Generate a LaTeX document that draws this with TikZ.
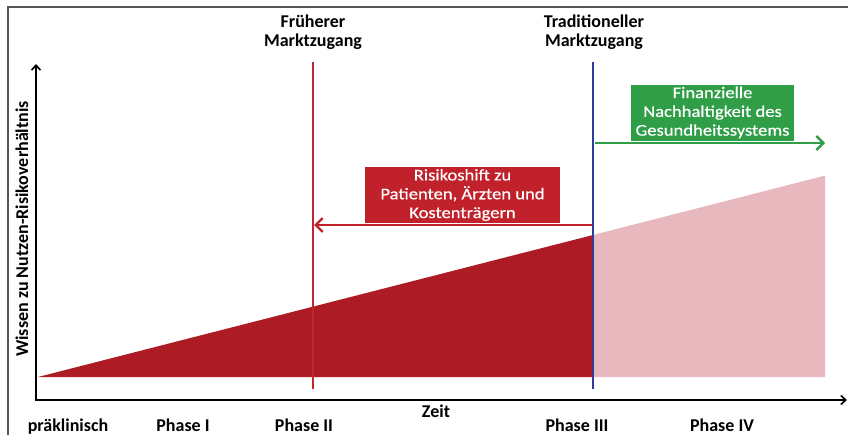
\documentclass[tikz,border=0pt]{standalone}
\usepackage{fontspec}
\setmainfont{Carlito}
\newfontfamily\boxfont[FakeStretch=1.14, FakeBold=0.5]{Carlito}
\usetikzlibrary{arrows.meta}
\definecolor{darkred}{HTML}{AD1C24}
\definecolor{boxred}{HTML}{C0212B}
\definecolor{linered}{HTML}{C4262E}
\definecolor{pinkfill}{HTML}{E7B9BF}
\definecolor{boxgreen}{HTML}{2F9E47}
\definecolor{lineblue}{HTML}{2F3C9C}
\definecolor{framegray}{HTML}{555555}
\tikzset{
  lbl/.style={font=\fontsize{18}{19.5}\selectfont\bfseries, align=center, inner sep=0pt},
  axislbl/.style={font=\fontsize{18}{19}\selectfont\bfseries, inner sep=0pt, anchor=base},
  boxtxt/.style={font=\boxfont\fontsize{16.3}{18.8}\selectfont, text=white, align=center, inner sep=0pt},
  axisline/.style={line width=1.8pt, -{Straight Barb[length=5pt,width=9pt,line width=1.6pt]}},
  shiftarrow/.style={line width=2.8pt, -{Straight Barb[length=7pt,width=14pt,line width=2.4pt]}},
}
\begin{document}
\begin{tikzpicture}[x=1pt,y=-1pt]
\useasboundingbox (0,0) rectangle (848,435);
% frame
\draw[framegray, line width=1.2pt] (8,435) -- (8,7) -- (848,7);
% areas
\fill[darkred] (38,377) -- (593,235) -- (593,377) -- cycle;
\fill[pinkfill] (593,235) -- (825,175.6) -- (825,377) -- (593,377) -- cycle;
% axes
\coordinate (O) at (36,400);
\coordinate (Ytop) at (36,64);
\coordinate (Xend) at (847,400);
\draw[axisline] (O) -- (Ytop);
\draw[axisline] ([xshift=-0.9pt]O) -- (Xend);
% vertical market lines
\coordinate (E1) at (313,62);
\coordinate (E2) at (313,389);
\coordinate (T1) at (593,62);
\coordinate (T2) at (593,389);
\draw[linered, line width=2.2pt] (E1) -- (E2);
\draw[lineblue, line width=2.4pt] (T1) -- (T2);
% top labels
\node[lbl] (frueh) at (313,32) {Früherer\\Marktzugang};
\node[lbl] (trad) at (594,32) {Traditioneller\\Marktzugang};
% boxes
\node[fill=boxred, minimum width=195pt, minimum height=56pt, inner sep=0pt] (rbox) at (462.5,195.5) {};
\node[boxtxt] (rtxt) at ([yshift=0.5pt]rbox.center) {Risikoshift zu\\Patienten, Ärzten und\\Kostenträgern};
\node[fill=boxgreen, minimum width=163pt, minimum height=56pt, inner sep=0pt] (gbox) at (712.5,113) {};
\node[boxtxt] (gtxt) at ([yshift=0.5pt]gbox.center) {Finanzielle\\Nachhaltigkeit des\\Gesundheitssystems};
% arrows
\coordinate (rs) at (592,225);
\coordinate (re) at (314,225);
\draw[boxred, shiftarrow] (rs) -- (re);
\coordinate (gs) at (595,143);
\coordinate (ge) at (825,143);
\draw[boxgreen, shiftarrow] (gs) -- (ge);
% axis labels
\node[font=\fontsize{18}{19}\selectfont\bfseries, rotate=90, inner sep=0pt] (ylab) at (22,229) {Wissen zu Nutzen-Risikoverhältnis};
\node[axislbl] (zeit) at (436,417) {Zeit};
\node[axislbl] (p0) at (68,431.5) {präklinisch};
\node[axislbl] (p1) at (183,431.5) {Phase I};
\node[axislbl] (p2) at (304,431.5) {Phase II};
\node[axislbl] (p3) at (577,431.5) {Phase III};
\node[axislbl] (p4) at (722,431.5) {Phase IV};
\end{tikzpicture}
\end{document}
